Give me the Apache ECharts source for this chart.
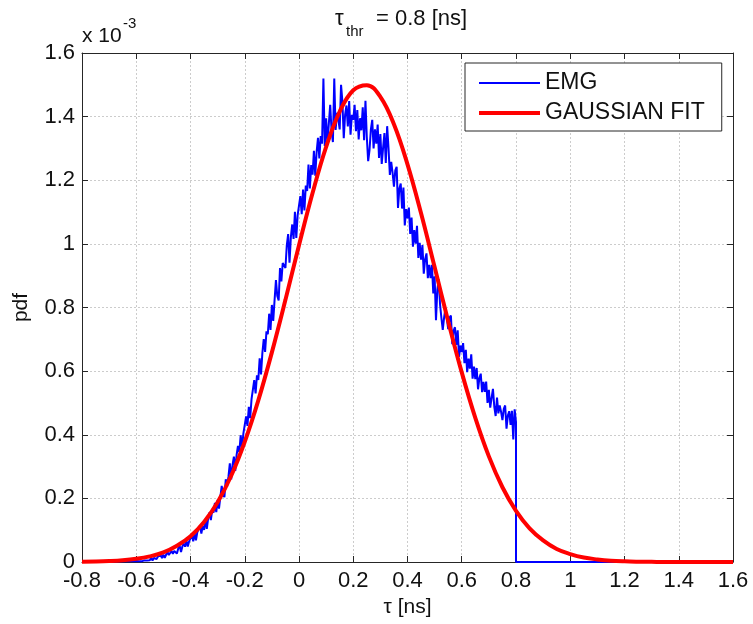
<!DOCTYPE html>
<html>
<head>
<meta charset="utf-8">
<script src="https://cdn.jsdelivr.net/npm/echarts@6/dist/echarts.min.js"></script>
<style>
html,body{margin:0;padding:0;background:#fff;}
#chart{width:753px;height:624px;}
</style>
</head>
<body>
<div id="chart"></div>
<script>
// ---- data (pdf values in units of 1e-3) ----
const xTicks = [-0.8,-0.6,-0.4,-0.2,0,0.2,0.4,0.6,0.8,1,1.2,1.4,1.6];
const yTicks = [0,0.2,0.4,0.6,0.8,1,1.2,1.4,1.6];

// EMG histogram: bins from -0.6 to 0.8 every 0.005
const emgStart = -0.6;
const emgStep = 0.005;
const emgValues = [
  0.003,0.0065,0.0022,0.0069,0.002,0.0067,0.0051,0.0101,0.0046,0.009,
  0.0055,0.0135,0.0045,0.0125,0.017,0.0095,0.017,0.014,0.0215,0.0125,
  0.0229,0.0127,0.0228,0.0322,0.022,0.0181,0.0345,0.0257,0.0344,0.0326,
  0.027,0.043,0.051,0.031,0.049,0.058,0.048,0.067,0.049,0.065,
  0.065,0.0845,0.065,0.0905,0.068,0.0935,0.0875,0.1145,0.089,0.113,
  0.101,0.133,0.104,0.136,0.156,0.132,0.163,0.155,0.186,0.157,
  0.195,0.168,0.204,0.239,0.211,0.204,0.260,0.237,0.269,0.310,
  0.260,0.3055,0.331,0.2865,0.337,0.365,0.3455,0.3985,0.359,0.4045,
  0.410,0.458,0.428,0.488,0.452,0.512,0.509,0.572,0.530,0.587,
  0.5725,0.6405,0.5895,0.6575,0.701,0.6605,0.725,0.716,0.7805,0.7295,
  0.808,0.758,0.824,0.886,0.836,0.822,0.924,0.882,0.940,0.938,
  0.924,0.9955,1.031,0.9405,1.021,1.061,1.0155,1.1005,1.019,1.0905,
  1.090,1.150,1.093,1.171,1.105,1.183,1.1665,1.249,1.174,1.2475,
  1.2175,1.2925,1.2145,1.2895,1.333,1.2685,1.339,1.315,1.520,1.3075,
  1.395,1.314,1.378,1.437,1.356,1.320,1.520,1.358,1.412,1.391,
  1.360,1.500,1.448,1.332,1.406,1.435,1.369,1.449,1.343,1.406,
  1.390,1.437,1.354,1.421,1.328,1.395,1.357,1.429,1.326,1.450,
  1.335,1.260,1.295,1.360,1.390,1.300,1.360,1.315,1.375,1.270,
  1.345,1.251,1.302,1.348,1.254,1.370,1.301,1.217,1.258,1.224,
  1.180,1.231,1.242,1.113,1.174,1.190,1.111,1.177,1.058,1.109,
  1.080,1.114,1.031,1.083,0.991,1.043,1.0005,1.057,0.956,1.0035,
  0.950,0.996,0.906,0.952,0.970,0.892,0.934,0.892,0.934,0.844,
  0.898,0.760,0.856,0.889,0.810,0.767,0.730,0.769,0.798,0.767,
  0.732,0.7675,0.775,0.6845,0.727,0.738,0.6825,0.7285,0.645,0.6805,
  0.660,0.688,0.625,0.667,0.597,0.639,0.6075,0.653,0.576,0.6145,
  0.575,0.610,0.543,0.578,0.592,0.534,0.566,0.535,0.567,0.500,
  0.541,0.485,0.516,0.544,0.488,0.459,0.517,0.467,0.492,0.472,
  0.446,0.481,0.492,0.419,0.460,0.474,0.431,0.475,0.385,0.480,
  0.440
];

// Gaussian fit: read every 0.05 from -0.8 to 1.6
const gaussStart = -0.8;
const gaussStep = 0.05;
const gaussValues = [
  0.0007,0.0014,0.0028,0.0053,0.0099,0.0176,0.030,0.051,0.081,0.126,
  0.188,0.271,0.378,0.508,0.659,0.824,0.996,1.160,1.305,1.416,
  1.483,1.499,1.462,1.376,1.250,1.096,0.927,0.757,0.596,0.453,
  0.332,0.235,0.161,0.106,0.068,0.041,0.025,0.014,0.008,0.004,
  0.002,0.001,0.0005,0,0,0,0,0,0
];

// ---- build series data ----
const emgData = [[-0.8, 0]];
emgValues.forEach((v, i) => emgData.push([+(emgStart + i * emgStep).toFixed(3), v]));
emgData.push([0.8, 0], [1.6, 0]);
const gaussData = gaussValues.map((v, i) => [+(gaussStart + i * gaussStep).toFixed(3), v]);

const FONT = '"Liberation Sans", Arial, Helvetica, sans-serif';
const fmt = v => String(parseFloat(v.toFixed(1)));

const chart = echarts.init(document.getElementById('chart'), null, {renderer: 'canvas'});
const baseAxisLine = {show: true, onZero: false, lineStyle: {color: '#262626', width: 1}};
const gridLine = {show: true, lineStyle: {color: '#cccccc', type: [2, 2], width: 1}};
const tick = {show: true, inside: true, length: 6, lineStyle: {color: '#262626'}};

chart.setOption({
  animation: false,
  backgroundColor: '#fff',
  grid: {left: 82, right: 20, top: 53, bottom: 62, containLabel: false},
  xAxis: [{
    type: 'value', min: -0.8, max: 1.6, interval: 0.2, position: 'bottom',
    axisLine: baseAxisLine, axisTick: tick,
    axisLabel: {color: '#111', fontSize: 22, fontFamily: FONT, margin: 8, formatter: fmt},
    splitLine: gridLine,
    name: 'τ [ns]', nameLocation: 'middle', nameGap: 32,
    nameTextStyle: {color: '#111', fontSize: 21, fontFamily: FONT}
  }, {
    type: 'value', min: -0.8, max: 1.6, interval: 0.2, position: 'top',
    axisLine: baseAxisLine, axisTick: tick,
    axisLabel: {show: false}, splitLine: {show: false}
  }],
  yAxis: [{
    type: 'value', min: 0, max: 1.6, interval: 0.2, position: 'left',
    axisLine: baseAxisLine, axisTick: tick,
    axisLabel: {color: '#111', fontSize: 22, fontFamily: FONT, margin: 7, formatter: fmt},
    splitLine: gridLine,
    name: 'pdf', nameLocation: 'middle', nameGap: 50, nameRotate: 90,
    nameTextStyle: {color: '#111', fontSize: 21, fontFamily: FONT}
  }, {
    type: 'value', min: 0, max: 1.6, interval: 0.2, position: 'right',
    axisLine: baseAxisLine, axisTick: tick,
    axisLabel: {show: false}, splitLine: {show: false}
  }],
  legend: {
    orient: 'vertical', left: 465, top: 63,
    padding: [8, 17, 6, 12],
    itemWidth: 61, itemHeight: 2, itemGap: 6,
    borderColor: '#262626', borderWidth: 1, backgroundColor: '#fff',
    textStyle: {color: '#111', fontSize: 23, fontFamily: FONT, lineHeight: 24},
    data: [
      {name: 'EMG', lineStyle: {color: '#0000ff', width: 2}, itemStyle: {color: '#0000ff', opacity: 0}},
      {name: 'GAUSSIAN FIT', lineStyle: {color: '#ff0000', width: 4}, itemStyle: {color: '#ff0000', opacity: 0}}
    ]
  },
  graphic: [
    {type: 'text', left: 335, top: 8, style: {text: 'τ', fontSize: 22, fontFamily: FONT, fill: '#111'}},
    {type: 'text', left: 346, top: 24, style: {text: 'thr', fontSize: 15, fontFamily: FONT, fill: '#111'}},
    {type: 'text', left: 376, top: 8, style: {text: '= 0.8 [ns]', fontSize: 22, fontFamily: FONT, fill: '#111'}},
    {type: 'text', left: 82, top: 26, style: {text: 'x 10', fontSize: 21, fontFamily: FONT, fill: '#111'}},
    {type: 'text', left: 123, top: 16, style: {text: '-3', fontSize: 15, fontFamily: FONT, fill: '#111'}}
  ],
  series: [{
    name: 'EMG', type: 'line', xAxisIndex: 0, yAxisIndex: 0,
    data: emgData, symbol: 'none', showSymbol: false,
    lineStyle: {color: '#0000ff', width: 2}, itemStyle: {color: '#0000ff'},
    z: 3
  }, {
    name: 'GAUSSIAN FIT', type: 'line', xAxisIndex: 0, yAxisIndex: 0,
    data: gaussData, symbol: 'none', showSymbol: false, smooth: 0.4,
    lineStyle: {color: '#ff0000', width: 4}, itemStyle: {color: '#ff0000'},
    z: 4
  }]
});
</script>
</body>
</html>
